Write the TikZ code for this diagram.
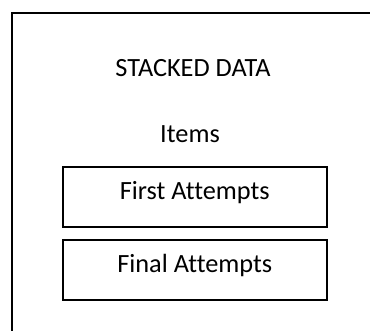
\documentclass[tikz,border=0pt]{standalone}
\usepackage{fontspec}
\setmainfont{Carlito}[Ligatures=NoCommon]
\begin{document}
\begin{tikzpicture}[x=0.5pt,y=-0.5pt,
  lbl/.style={font=\fontsize{13.15pt}{15pt}\selectfont, anchor=base, inner sep=0pt},
  attbox/.style={draw, line width=1pt, minimum width=132.25pt, minimum height=30pt,
    inner sep=0pt, text height=8pt, text depth=5pt,
    font=\fontsize{13.15pt}{15pt}\selectfont}]
\useasboundingbox (0,0) rectangle (370,331);
\coordinate (tr) at (370,13);
\coordinate (tl) at (12,13);
\coordinate (bl) at (12,331);
\draw[line width=1pt] (tr) -- (tl) -- (bl);
\node[lbl] (title) at (193,77) {STACKED DATA};
\node[lbl] (items) at (190,143) {Items};
\node[attbox] (first) at (194.75,197) {First Attempts};
\node[attbox] (final) at (194.75,270) {Final Attempts};
\end{tikzpicture}
\end{document}
